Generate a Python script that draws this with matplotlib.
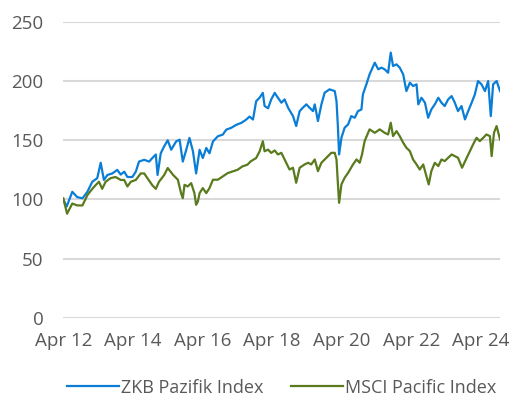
import matplotlib
matplotlib.use("Agg")
import matplotlib.pyplot as plt
import matplotlib.dates as mdates
import pandas as pd

# positions, in months since Apr 2012
zkb_months = [0, 1.15, 3.1, 4.8, 6.6, 8.3, 10, 11.7, 12.9, 14, 15.2, 16.9, 18.6, 19.8, 21, 22.1,
              23.8, 25, 26.1, 27.9, 29.6, 30.7, 31.9, 32.5, 33.6, 34.8, 36, 37.2, 38.9, 40.1,
              41.2, 42.4, 43.5, 44.7, 45.8, 47, 48.1, 49.3, 50.4, 51.6, 53.3, 55, 56.2, 57.9,
              59.6, 61.4, 63.1, 64.2, 65.4, 66.5, 67.7, 68.8, 69.4, 70.6, 71.7, 72.9, 74, 75.2,
              76.3, 77.5, 79.2, 80.3, 81.5, 82.6, 83.8, 84.9, 86.1, 86.7, 87.8, 89, 90.1, 91.8,
              93.6, 94.2, 94.7, 95.1, 95.9, 97, 98.2, 99.3, 100.5, 101.6, 102.8, 103.3, 104.5,
              105.6, 107.4, 108.6, 109.7, 110.8, 112, 112.9, 113.7, 114.9, 116, 117.2, 118.3,
              119.5, 120.6, 121.8, 122.4, 123.5, 124.7, 125.8, 126.9, 128.1, 129.3, 130.4,
              131.5, 132.7, 133.9, 135, 136.1, 137.3, 138.5, 139.6, 140.8, 141.9, 143, 144.2,
              145.4, 146.5, 147.4, 148.2, 149.4, 150.6]
zkb_values = [100, 94, 106.5, 102, 101, 106.5, 115, 118, 131, 116.5, 120.7, 122, 125, 121, 123.5, 119,
              119, 123.5, 132, 133.5, 132, 135, 138, 120.7, 139, 145, 150, 142, 149, 150.5,
              132, 142, 152, 140.7, 122, 142, 135, 143.5, 139, 149, 153.4, 154.8, 159, 160.5,
              163, 164.7, 167.5, 170, 167.5, 183, 186, 190, 179, 177, 184.5, 190, 185.9, 181.7,
              184.5, 177.5, 170.4, 162, 174.6, 177.5, 180.3, 177.5, 174.6, 180.3, 166.2, 180.3, 190.1, 193,
              191.5, 183.1, 160.6, 138, 152.1, 160.6, 163.4, 170.4, 169, 174.6, 176, 188.7, 197.2,
              205.6, 215.5, 209.9, 211.3, 209.9, 207, 224, 212.7, 214.1, 211.3, 205.6, 191.5,
              198.6, 195.8, 197.2, 180.3, 185.9, 181.7, 169, 176, 180.3, 185.9, 181.7,
              178.9, 184.5, 187.3, 181.7, 174.6, 178.9, 167.6, 174.6, 181.7, 188.7, 200, 197.2,
              191.5, 200, 170.4, 197.2, 200, 191.5]

msci_months = [0, 1.3, 3.1, 4.8, 6.6, 8.3, 10, 11.1, 12.3, 13.4, 14.6, 16.3, 18, 19.8, 21, 22.1,
               23.3, 25, 26.7, 27.9, 29, 30.7, 31.9, 33, 34.8, 36, 37.8, 39.5, 40.6, 41.2, 41.8,
               42.9, 44.1, 45.2, 45.8, 46.4, 47, 48.1, 49.3, 50.4, 51.6, 53.3, 55, 56.7, 58.4,
               60.1, 61.8, 63.5, 64.6, 66.5, 67.7, 68.8, 69.4, 70.6, 71.7, 72.9, 74, 75.2, 76.3,
               78, 79.2, 80.3, 81.5, 83.2, 84.4, 85.5, 86.7, 87.8, 89, 90.7, 92.4, 93.6, 94.2,
               94.7, 95.1, 95.9, 97, 98.2, 99.9, 101.1, 102.2, 103, 103.9, 105.6, 107.4, 109.1,
               110.8, 112, 112.9, 113.7, 114.9, 116, 117.2, 118.3, 119.5, 120.6, 121.8, 122.9,
               124.1, 125.2, 126, 126.9, 128.1, 129.3, 130.4, 131.5, 132.7, 133.9, 135, 136.1,
               137.5, 139.1, 140.2, 141.3, 142.5, 143.6, 144.8, 145.9, 147.1, 147.7, 148.5,
               149.4, 150.6]
msci_values = [101, 88, 96.6, 95, 95, 103.7, 109, 112, 115, 109, 115, 118, 119, 116.5, 116.5, 111,
               115, 116.5, 122, 122, 118, 112, 109, 115, 120.7, 126.6, 120.9, 116.7, 105.4, 101.1, 112.4,
               111, 113.8, 105.4, 95.5, 98.3, 105.4, 109.6, 105.4, 109.6, 116.7, 116.7, 119.5, 122.3, 123.7,
               125.1, 128, 129.4, 132.2, 135, 140.7, 149.2, 140.7, 142.1, 139.3, 141.4, 138, 139.4, 133.8,
               125.3, 126.8, 114.1, 126.8, 129.6, 131, 129.6, 133.8, 123.9, 131, 135.2, 139.4, 139.4, 133.8,
               112.7, 97.2, 112.7, 118.3, 122.5, 129.6, 133.8, 131, 138, 149.3, 159.2, 156.3, 159.2,
               156.3, 154.9, 164.8, 153.5, 157.7, 153.5, 147.9, 143.7, 140.8, 133.8, 129.6, 125.3,
               129.6, 119.7, 112.7, 123.9, 131, 128.2, 133.8, 132.4, 135.2, 138, 136.6, 135.2,
               126.8, 135.2, 140.8, 146.5, 152.1, 149.3, 152.1, 154.9, 153.5, 136.6, 156.3,
               162, 150.7]

start = pd.Timestamp("2012-04-01")

def to_dates(months):
    return [start + pd.Timedelta(days=m * 30.44) for m in months]

zkb_dates = to_dates(zkb_months)
msci_dates = to_dates(msci_months)

plt.rcParams['font.family'] = ['Open Sans', 'DejaVu Sans']

fig = plt.figure(figsize=(5.15, 4.04), dpi=100)
ax = fig.add_axes([0.122, 0.213, 0.849, 0.733])

ax.plot(zkb_dates, zkb_values, color="#0a7ed6", lw=1.6, label="ZKB Pazifik Index")
ax.plot(msci_dates, msci_values, color="#5a7a1e", lw=1.6, label="MSCI Pacific Index")

ax.set_ylim(0, 250)
ax.set_yticks(range(0, 251, 50))
ax.set_xlim(zkb_dates[0] - pd.Timedelta(days=5), zkb_dates[-1])
ax.xaxis.set_major_locator(mdates.YearLocator(base=2, month=4, day=1))
ax.xaxis.set_major_formatter(mdates.DateFormatter("%b %y"))

ax.grid(True, axis="y", color="#d9d9d9", lw=1.5)
ax.set_axisbelow(True)
for s in ax.spines.values():
    s.set_visible(False)
ax.tick_params(length=0, labelsize=13.5, labelcolor="#595959")
ax.tick_params(axis="x", pad=10)
ax.tick_params(axis="y", pad=14)

ax.legend(loc="upper center", bbox_to_anchor=(0.50, -0.15), ncol=2, frameon=False,
          fontsize=13, labelcolor="#595959", handlelength=2.9, columnspacing=1.5,
          handletextpad=0.1)

fig.savefig("out.png", dpi=100)
